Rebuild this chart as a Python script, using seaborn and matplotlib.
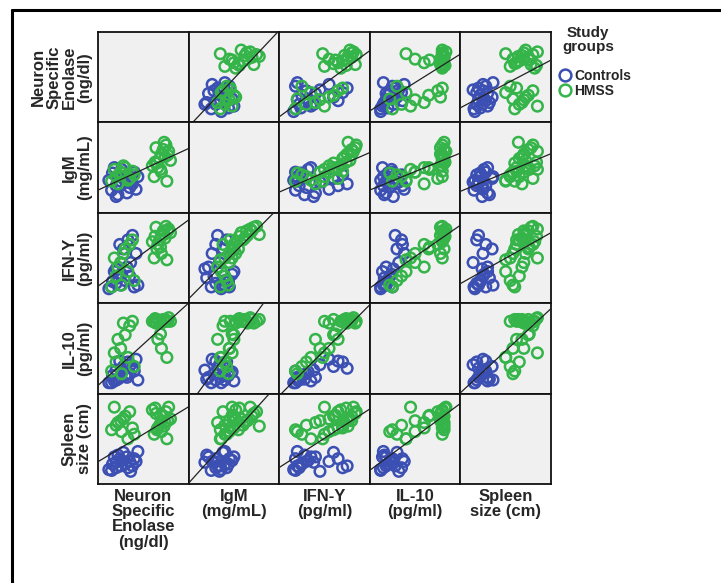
import numpy as np
import pandas as pd
import matplotlib
matplotlib.use("Agg")
import matplotlib.pyplot as plt
import seaborn as sns
from matplotlib.lines import Line2D

# variables (each axis scaled 0-100 of its panel range)
var_names = ['NSE', 'IgM', 'IFN', 'IL10', 'Spleen']
row_labels = ['Neuron\nSpecific\nEnolase\n(ng/dl)', 'IgM\n(mg/mL)', 'IFN-Y\n(pg/ml)',
              'IL-10\n(pg/ml)', 'Spleen\nsize (cm)']
col_labels = ['Neuron\nSpecific\nEnolase\n(ng/dl)', 'IgM\n(mg/mL)', 'IFN-Y\n(pg/ml)',
              'IL-10\n(pg/ml)', 'Spleen\nsize (cm)']
group_names = ['Controls', 'HMSS']

ctrl_nse = [15, 20, 25, 30, 35, 40, 18, 22, 28, 33, 38, 42, 12, 16, 26, 32, 36, 44, 20, 24]
ctrl_igm = [25, 30, 35, 40, 28, 45, 50, 20, 38, 42, 32, 26, 36, 44, 48, 22, 34, 40, 18, 30]
ctrl_ifn = [18, 22, 20, 25, 30, 18, 35, 28, 60, 70, 75, 55, 16, 24, 32, 40, 45, 20, 38, 65]
ctrl_il10 = [12, 15, 18, 20, 22, 25, 14, 16, 30, 35, 28, 38, 12, 20, 24, 18, 32, 15, 26, 36]
ctrl_spleen = [15, 18, 20, 22, 25, 28, 30, 32, 35, 18, 20, 25, 16, 22, 26, 30, 14, 36, 24, 28]

hmss_nse = [62, 65, 68, 70, 72, 75, 78, 80, 66, 70, 74, 64, 76, 60, 73, 69, 77, 63,
            15, 20, 25, 30, 35, 40, 18, 22, 28, 33, 38, 26]
hmss_igm = [40, 55, 60, 65, 70, 75, 68, 58, 50, 45, 62, 72, 35, 52, 78, 48, 64, 56,
            35, 40, 45, 50, 38, 42, 48, 32, 52, 36, 46, 44]
hmss_ifn = [50, 60, 70, 75, 80, 85, 82, 78, 65, 55, 72, 84, 48, 68, 76, 62, 80, 74,
            18, 30, 45, 60, 65, 25, 50, 40, 55, 35, 70, 20]
hmss_il10 = [80, 82, 80, 78, 82, 80, 84, 80, 60, 50, 82, 78, 40, 80, 82, 66, 80, 83,
             25, 35, 50, 65, 75, 30, 45, 60, 78, 40, 80, 22]
hmss_spleen = [55, 60, 65, 70, 75, 80, 85, 72, 62, 58, 68, 78, 50, 82, 64, 76, 70, 84,
               60, 65, 70, 75, 80, 55, 85, 68, 72, 50, 62, 58]

ctrl = pd.DataFrame({'NSE': ctrl_nse, 'IgM': ctrl_igm, 'IFN': ctrl_ifn,
                     'IL10': ctrl_il10, 'Spleen': ctrl_spleen})
ctrl['group'] = group_names[0]
hmss = pd.DataFrame({'NSE': hmss_nse, 'IgM': hmss_igm, 'IFN': hmss_ifn,
                     'IL10': hmss_il10, 'Spleen': hmss_spleen})
hmss['group'] = group_names[1]
df = pd.concat([ctrl, hmss], ignore_index=True)

colors = {'Controls': '#3c50b4', 'HMSS': '#35b44a'}

sns.set_style('white')
plt.rcParams['font.family'] = ['Liberation Sans', 'DejaVu Sans']

W, H = 721, 583
fig, axes = plt.subplots(5, 5, figsize=(W / 100, H / 100), dpi=100)
fig.subplots_adjust(left=98 / W, right=551 / W, top=1 - 32 / H, bottom=1 - 484 / H,
                    wspace=0, hspace=0)

for i, yv in enumerate(var_names):
    for j, xv in enumerate(var_names):
        ax = axes[i, j]
        ax.set_facecolor('#f0f0f0')
        ax.set_xlim(0, 100)
        ax.set_ylim(0, 100)
        if i != j:
            for g in group_names:
                sub = df[df['group'] == g]
                ax.scatter(sub[xv], sub[yv], s=58, facecolors='none',
                           edgecolors=colors[g], linewidths=1.8, zorder=2)
            sns.regplot(data=df, x=xv, y=yv, ax=ax, scatter=False, ci=None,
                        truncate=False, line_kws={'color': '#222222', 'lw': 0.9, 'zorder': 3})
            ax.set_xlim(0, 100)
            ax.set_ylim(0, 100)
        ax.set_xticks([])
        ax.set_yticks([])
        ax.set_xlabel('')
        ax.set_ylabel('')
        for sp in ax.spines.values():
            sp.set_visible(True)
            sp.set_color('#111111')
            sp.set_linewidth(1.3)

# row and column labels
for i, lab in enumerate(row_labels):
    yc = 1 - (32 + 90.4 * (i + 0.5)) / H
    fig.text(92 / W, yc, lab, rotation=90, ha='right', va='center',
             multialignment='center', fontsize=12, fontweight='bold', linespacing=1.02)
for j, lab in enumerate(col_labels):
    xc = (98 + 90.6 * (j + 0.5)) / W
    fig.text(xc, 1 - 489 / H, lab, ha='center', va='top',
             multialignment='center', fontsize=12, fontweight='bold', linespacing=1.02)

# legend
fig.text(588 / W, 1 - 40 / H, 'Study\ngroups', ha='center', va='center',
         multialignment='center', fontsize=11, fontweight='bold', linespacing=1.0,
         family=['Liberation Sans Narrow', 'Liberation Sans'])
handles = [Line2D([], [], marker='o', ls='', markerfacecolor='none',
                  markeredgecolor=colors[g], markeredgewidth=1.8, markersize=8.5)
           for g in group_names]
leg = fig.legend(handles, group_names, loc='upper left',
                 bbox_to_anchor=(549 / W, 1 - 62 / H), frameon=False,
                 handletextpad=0.0, handlelength=1.3, labelspacing=0.05,
                 borderpad=0, prop={'family': ['Liberation Sans Narrow', 'Liberation Sans'],
                                    'weight': 'bold', 'size': 10})

# outer frame (top and left edges visible)
fig.add_artist(Line2D([12 / W, 1], [1 - 10 / H, 1 - 10 / H], color='black', lw=2.2,
                      transform=fig.transFigure))
fig.add_artist(Line2D([12 / W, 12 / W], [0, 1 - 10 / H], color='black', lw=2.2,
                      transform=fig.transFigure))

fig.savefig('out.png', dpi=100)
